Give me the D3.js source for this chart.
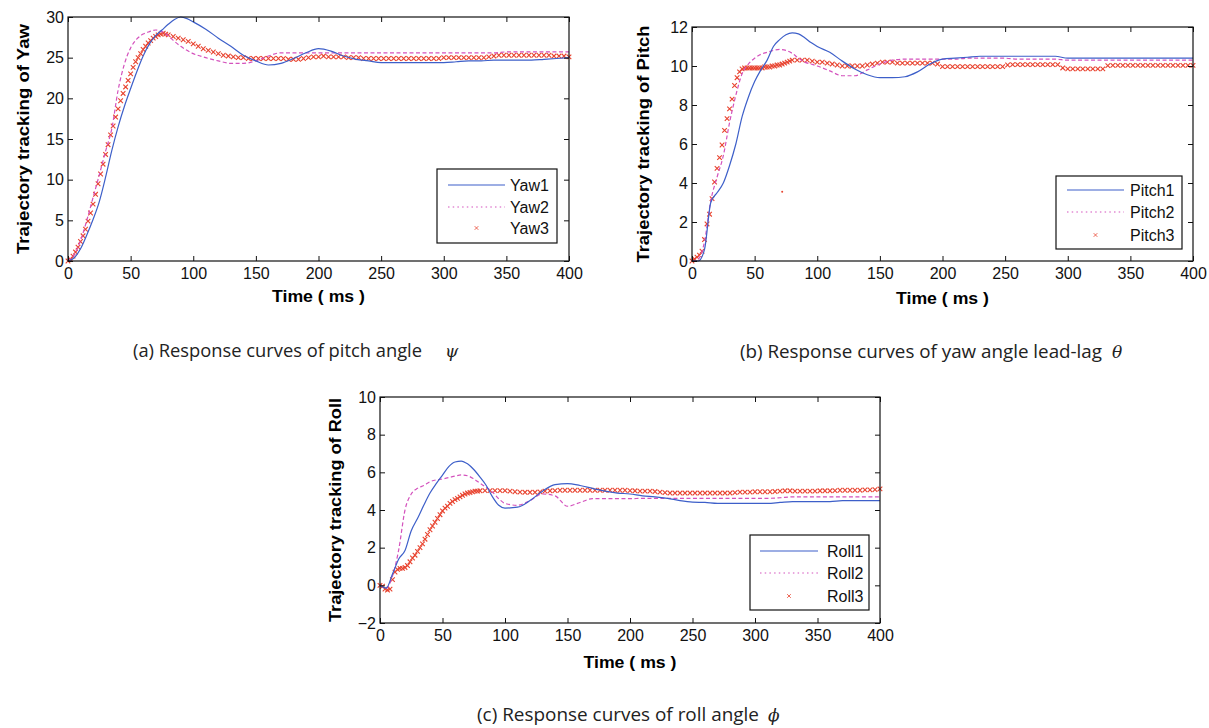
<!DOCTYPE html>
<html>
<head>
<meta charset="utf-8">
<script src="https://cdn.jsdelivr.net/npm/d3@7"></script>
<style>
  body { margin: 0; background: #fff; }
  svg text { font-family: "Liberation Sans", Arial, sans-serif; }
</style>
</head>
<body>
<svg id="fig" width="1209" height="728"></svg>
<script>
// sample times (ms) for the solid / dashed curves
const tLine = [0, 5, 10, 15, 20, 25, 30, 35, 40, 45, 50, 55, 60, 65, 70, 75, 80, 85, 90, 95, 100,
  110, 120, 130, 140, 150, 160, 170, 180, 190, 200, 210, 220, 230, 240, 250, 260, 270, 280, 290, 300,
  310, 320, 330, 340, 350, 360, 370, 380, 390, 400];

// sample times (ms) for the x-marker series
const tMark = [0, 2, 4, 6, 8, 10, 12, 14, 16, 18, 20, 22, 24, 26, 28, 30, 32, 34, 36, 38, 40,
  42, 44, 46, 48, 50, 52, 54, 56, 58, 60, 62, 64, 66, 68, 70, 72, 74, 76, 78, 80,
  84, 88, 92, 96, 100, 104, 108, 112, 116, 120, 124, 128, 132, 136, 140, 144, 148, 152, 156, 160,
  164, 168, 172, 176, 180, 184, 188, 192, 196, 200, 204, 208, 212, 216, 220, 224, 228, 232, 236, 240,
  244, 248, 252, 256, 260, 264, 268, 272, 276, 280, 284, 288, 292, 296, 300, 304, 308, 312, 316, 320,
  324, 328, 332, 336, 340, 344, 348, 352, 356, 360, 364, 368, 372, 376, 380, 384, 388, 392, 396, 400];

const xTicks = [0, 50, 100, 150, 200, 250, 300, 350, 400];

// (a) yaw
const yaw1 = [0, 0.4, 1.5, 3.2, 5.1, 7.3, 10.3, 13.6, 16.5, 19.0, 21.2, 23.3, 25.2, 26.7, 27.7, 28.4, 29.1, 29.7, 30.0, 29.8, 29.4,
  28.5, 27.4, 26.4, 25.3, 24.6, 24.1, 24.3, 24.9, 25.6, 26.1, 25.8, 25.2, 24.8, 24.6, 24.4, 24.4, 24.4, 24.4, 24.4, 24.4,
  24.5, 24.6, 24.6, 24.7, 24.7, 24.7, 24.7, 24.8, 24.9, 25.0];
const yaw2 = [0, 0.8, 2.5, 5.0, 7.8, 10.6, 13.5, 16.3, 21.0, 24.2, 26.2, 27.3, 27.9, 28.2, 28.4, 28.2, 27.7, 27.0, 26.4, 25.9, 25.5,
  25.0, 24.6, 24.3, 24.3, 24.6, 25.2, 25.6, 25.6, 25.6, 25.6, 25.6, 25.6, 25.6, 25.6, 25.6, 25.6, 25.6, 25.6, 25.6, 25.6,
  25.6, 25.6, 25.6, 25.6, 25.7, 25.7, 25.7, 25.7, 25.7, 25.7];
const yaw3 = [0, 0.2, 0.6, 1.1, 1.7, 2.4, 3.1, 3.9, 4.9, 5.9, 7.0, 8.2, 9.5, 10.7, 11.9, 13.1, 14.3, 15.5, 16.6, 17.7, 18.7,
  19.7, 20.6, 21.4, 22.2, 23.0, 23.8, 24.5, 25.0, 25.5, 26.0, 26.4, 26.8, 27.1, 27.4, 27.6, 27.8, 27.9, 28.0, 27.9, 27.8,
  27.6, 27.4, 27.2, 27.0, 26.7, 26.4, 26.1, 25.9, 25.7, 25.5, 25.3, 25.2, 25.1, 25.0, 25.0, 24.9, 24.9, 24.9, 24.9, 24.9,
  24.9, 24.9, 24.9, 24.8, 24.8, 24.8, 24.9, 25.0, 25.1, 25.1, 25.2, 25.1, 25.1, 25.1, 25.1, 25.0, 25.0, 25.0, 24.9, 24.9,
  24.9, 24.9, 24.9, 24.9, 24.9, 24.9, 24.9, 24.9, 24.9, 24.9, 24.9, 24.9, 24.9, 24.9, 25.0, 25.0, 25.0, 25.0, 25.0, 25.0,
  25.0, 25.0, 25.0, 25.1, 25.2, 25.3, 25.3, 25.3, 25.3, 25.3, 25.3, 25.3, 25.3, 25.3, 25.3, 25.3, 25.2, 25.2, 25.2, 25.1];

// (b) pitch
const pitch1 = [0, 0.0, 0.6, 3.0, 3.5, 4.0, 4.9, 6.0, 7.4, 8.4, 9.2, 9.8, 10.3, 11.0, 11.35, 11.6, 11.7, 11.65, 11.45, 11.2, 11.0,
  10.7, 10.25, 9.85, 9.55, 9.4, 9.4, 9.45, 9.7, 10.1, 10.35, 10.4, 10.45, 10.5, 10.5, 10.5, 10.5, 10.5, 10.5, 10.5, 10.4,
  10.4, 10.4, 10.4, 10.4, 10.4, 10.4, 10.4, 10.4, 10.4, 10.4];
const pitch2 = [0, 0.1, 1.0, 3.1, 4.3, 5.4, 7.1, 8.5, 9.6, 10.1, 10.4, 10.6, 10.7, 10.8, 10.85, 10.8, 10.65, 10.4, 10.2, 10.1, 10.0,
  9.75, 9.5, 9.5, 9.8, 10.1, 10.3, 10.35, 10.35, 10.35, 10.35, 10.35, 10.4, 10.4, 10.4, 10.4, 10.35, 10.35, 10.35, 10.35, 10.3,
  10.3, 10.3, 10.3, 10.3, 10.3, 10.3, 10.3, 10.3, 10.3, 10.3];
const pitch3 = [0, 0.1, 0.2, 0.3, 0.5, 1.1, 1.9, 2.4, 3.2, 4.05, 4.75, 5.3, 5.95, 6.7, 7.3, 7.8, 8.3, 9.0, 9.4, 9.7, 9.85,
  9.9, 9.9, 9.9, 9.9, 9.9, 9.9, 9.9, 9.9, 9.95, 9.95, 9.95, 10.0, 10.0, 10.05, 10.05, 10.1, 10.15, 10.2, 10.25, 10.3,
  10.3, 10.3, 10.3, 10.25, 10.2, 10.2, 10.15, 10.1, 10.05, 10.0, 10.0, 10.0, 10.0, 10.0, 10.05, 10.1, 10.15, 10.2, 10.2, 10.2,
  10.15, 10.15, 10.15, 10.15, 10.15, 10.15, 10.15, 10.15, 10.1, 9.97, 9.97, 9.97, 9.97, 9.97, 9.97, 9.97, 9.97, 9.97, 9.97, 9.97,
  9.97, 9.97, 10.05, 10.07, 10.07, 10.07, 10.07, 10.07, 10.07, 10.07, 10.07, 10.07, 10.07, 9.9, 9.85, 9.85, 9.85, 9.85, 9.85, 9.85,
  9.85, 9.85, 10.02, 10.03, 10.03, 10.03, 10.03, 10.03, 10.03, 10.03, 10.03, 10.03, 10.03, 10.03, 10.03, 10.03, 10.03, 10.03, 10.03, 10.03];
const pitchStray = [[72, 3.55]];

// (c) roll
const roll1 = [0, -0.15, 0.6, 1.4, 1.85, 2.9, 3.55, 4.25, 4.9, 5.4, 5.85, 6.3, 6.55, 6.6, 6.45, 6.15, 5.75, 5.3, 4.7, 4.25, 4.1,
  4.15, 4.5, 5.0, 5.35, 5.4, 5.3, 5.15, 5.0, 4.9, 4.85, 4.75, 4.7, 4.62, 4.5, 4.42, 4.4, 4.35, 4.35, 4.35, 4.35,
  4.35, 4.4, 4.45, 4.45, 4.45, 4.45, 4.5, 4.5, 4.5, 4.5];
const roll2 = [0, -0.15, 0.5, 1.9, 4.0, 4.85, 5.15, 5.3, 5.5, 5.6, 5.65, 5.72, 5.8, 5.86, 5.82, 5.65, 5.42, 5.2, 4.95, 4.6, 4.35,
  4.25, 4.5, 4.85, 4.75, 4.2, 4.4, 4.6, 4.6, 4.6, 4.6, 4.62, 4.62, 4.62, 4.62, 4.62, 4.62, 4.62, 4.62, 4.62, 4.62,
  4.62, 4.65, 4.7, 4.7, 4.7, 4.7, 4.7, 4.7, 4.7, 4.7];
const roll3 = [0, -0.05, -0.2, -0.25, -0.2, 0.3, 0.7, 0.85, 0.9, 0.9, 0.95, 1.05, 1.25, 1.45, 1.6, 1.8, 2.0, 2.2, 2.45, 2.7, 2.95,
  3.15, 3.35, 3.55, 3.75, 3.95, 4.1, 4.2, 4.35, 4.45, 4.55, 4.62, 4.7, 4.78, 4.85, 4.9, 4.93, 4.96, 5.0, 5.0, 5.02,
  5.03, 5.03, 5.03, 5.03, 5.03, 5.0, 4.97, 4.95, 4.94, 4.94, 4.94, 4.96, 5.0, 5.02, 5.03, 5.05, 5.05, 5.05, 5.05, 5.05,
  5.05, 5.05, 5.05, 5.05, 5.05, 5.05, 5.05, 5.05, 5.05, 5.03, 5.02, 5.0, 5.0, 5.0, 4.98, 4.95, 4.92, 4.9, 4.9, 4.9,
  4.9, 4.9, 4.9, 4.9, 4.9, 4.9, 4.9, 4.9, 4.9, 4.9, 4.92, 4.95, 4.95, 4.95, 4.97, 4.97, 4.97, 4.97, 4.98, 5.0,
  5.02, 5.02, 5.0, 5.0, 5.0, 5.0, 5.0, 5.02, 5.02, 5.02, 5.03, 5.05, 5.05, 5.05, 5.05, 5.05, 5.07, 5.07, 5.08, 5.12];

const blue = '#3d5fc9', pink = '#d452bd', red = '#e8432f';

const svg = d3.select('#fig');
svg.append('rect').attr('width', 1209).attr('height', 728).attr('fill', '#fff');

const panels = [
  {
    box: { x0: 68, x1: 569, y0: 17, y1: 261 }, yDomain: [0, 30], yTicks: [0, 5, 10, 15, 20, 25, 30],
    ylabel: 'Trajectory tracking of Yaw', ylabX: 29, ylabLen: 230, xlabY: 302,
    names: ['Yaw1', 'Yaw2', 'Yaw3'], s1: yaw1, s2: yaw2, s3: yaw3, stray: [],
    legend: { x: 437, y: 169, w: 120, h: 74, rows: [185, 207, 228], lx0: 448, lx1: 505, tx: 510 }
  },
  {
    box: { x0: 692, x1: 1193, y0: 27, y1: 261 }, yDomain: [0, 12], yTicks: [0, 2, 4, 6, 8, 10, 12],
    ylabel: 'Trajectory tracking of Pitch', ylabX: 649, ylabLen: 237, xlabY: 304,
    names: ['Pitch1', 'Pitch2', 'Pitch3'], s1: pitch1, s2: pitch2, s3: pitch3, stray: pitchStray,
    legend: { x: 1056, y: 176, w: 126, h: 73, rows: [190, 212, 235], lx0: 1067, lx1: 1124, tx: 1130 }
  },
  {
    box: { x0: 380, x1: 880, y0: 397, y1: 623 }, yDomain: [-2, 10], yTicks: [-2, 0, 2, 4, 6, 8, 10],
    ylabel: 'Trajectory tracking of Roll', ylabX: 341, ylabLen: 224, xlabY: 668,
    names: ['Roll1', 'Roll2', 'Roll3'], s1: roll1, s2: roll2, s3: roll3, stray: [],
    legend: { x: 750, y: 535, w: 119, h: 75, rows: [551, 573, 596], lx0: 760, lx1: 818, tx: 827 }
  }
];

const xMark = 'M-2.3,-2.3L2.3,2.3M-2.3,2.3L2.3,-2.3';

function styleAxis(sel, labelSize) {
  sel.attr('font-size', null).attr('font-family', null);
  sel.select('.domain').remove();
  sel.selectAll('line').attr('stroke', '#111').attr('stroke-width', 1);
  sel.selectAll('text').attr('fill', '#111').style('font-size', labelSize + 'px')
    .style('font-family', '"Liberation Sans", Arial, sans-serif');
}

panels.forEach(p => {
  const b = p.box;
  const x = d3.scaleLinear().domain([0, 400]).range([b.x0, b.x1]);
  const y = d3.scaleLinear().domain(p.yDomain).range([b.y1, b.y0]);
  const g = svg.append('g');

  const line = d3.line().x((d, i) => x(tLine[i])).y(d => y(d)).curve(d3.curveMonotoneX);

  // markers series
  g.append('g').selectAll('path').data(p.s3).join('path')
    .attr('d', xMark)
    .attr('transform', (d, i) => `translate(${x(tMark[i])},${y(d)})`)
    .attr('fill', 'none').attr('stroke', red).attr('stroke-width', 1.1);

  g.selectAll('circle.stray').data(p.stray).join('circle')
    .attr('class', 'stray')
    .attr('cx', d => x(d[0])).attr('cy', d => y(d[1])).attr('r', 1)
    .attr('fill', red);

  g.append('path').datum(p.s2).attr('d', line)
    .attr('fill', 'none').attr('stroke', pink).attr('stroke-width', 1.2)
    .attr('stroke-dasharray', '4,2.5');

  g.append('path').datum(p.s1).attr('d', line)
    .attr('fill', 'none').attr('stroke', blue).attr('stroke-width', 1.2);

  // axes with inward ticks on all sides
  g.append('g').attr('transform', `translate(0,${b.y1})`)
    .call(d3.axisBottom(x).tickValues(xTicks).tickSize(-5).tickPadding(7))
    .call(s => styleAxis(s, 16));
  g.append('g').attr('transform', `translate(0,${b.y0})`)
    .call(d3.axisTop(x).tickValues(xTicks).tickSize(-5).tickFormat(''))
    .call(s => styleAxis(s, 16));
  g.append('g').attr('transform', `translate(${b.x0},0)`)
    .call(d3.axisLeft(y).tickValues(p.yTicks).tickSize(-5).tickPadding(4))
    .call(s => styleAxis(s, 16));
  g.append('g').attr('transform', `translate(${b.x1},0)`)
    .call(d3.axisRight(y).tickValues(p.yTicks).tickSize(-5).tickFormat(''))
    .call(s => styleAxis(s, 16));

  g.append('rect')
    .attr('x', b.x0).attr('y', b.y0)
    .attr('width', b.x1 - b.x0).attr('height', b.y1 - b.y0)
    .attr('fill', 'none').attr('stroke', '#111').attr('stroke-width', 1.2);

  // axis titles
  g.append('text')
    .attr('x', (b.x0 + b.x1) / 2).attr('y', p.xlabY)
    .attr('text-anchor', 'middle')
    .attr('textLength', 93).attr('lengthAdjust', 'spacingAndGlyphs')
    .style('font-size', '17px').style('font-weight', 'bold')
    .text('Time ( ms )');

  g.append('text')
    .attr('transform', `translate(${p.ylabX},${(b.y0 + b.y1) / 2}) rotate(-90)`)
    .attr('text-anchor', 'middle')
    .attr('textLength', p.ylabLen).attr('lengthAdjust', 'spacingAndGlyphs')
    .style('font-size', '17px').style('font-weight', 'bold')
    .text(p.ylabel);

  // legend
  const L = p.legend;
  const lg = g.append('g');
  lg.append('rect').attr('x', L.x).attr('y', L.y).attr('width', L.w).attr('height', L.h)
    .attr('fill', '#fff').attr('stroke', '#111').attr('stroke-width', 1.2);
  lg.append('line').attr('x1', L.lx0).attr('x2', L.lx1).attr('y1', L.rows[0]).attr('y2', L.rows[0])
    .attr('stroke', blue).attr('stroke-width', 1.2);
  lg.append('line').attr('x1', L.lx0).attr('x2', L.lx1).attr('y1', L.rows[1]).attr('y2', L.rows[1])
    .attr('stroke', pink).attr('stroke-width', 1.2).attr('stroke-dasharray', '1.5,3.2');
  lg.append('path').attr('d', xMark)
    .attr('transform', `translate(${(L.lx0 + L.lx1) / 2},${L.rows[2]}) scale(0.8)`)
    .attr('fill', 'none').attr('stroke', red).attr('stroke-width', 1);
  p.names.forEach((n, i) => {
    lg.append('text').attr('x', L.tx).attr('y', L.rows[i]).attr('dy', '0.36em')
      .style('font-size', '16px').attr('fill', '#111').text(n);
  });
});

// captions
const captions = [
  { x: 133, y: 357, len: 289, text: '(a) Response curves of pitch angle', sym: 'ψ', sx: 445 },
  { x: 740, y: 358, len: 362, text: '(b) Response curves of yaw angle  lead-lag', sym: 'θ', sx: 1112 },
  { x: 477, y: 721, len: 282, text: '(c) Response curves of roll angle', sym: 'ϕ', sx: 768 }
];
captions.forEach(c => {
  svg.append('text')
    .attr('x', c.x).attr('y', c.y)
    .attr('textLength', c.len).attr('lengthAdjust', 'spacingAndGlyphs')
    .style('font-family', '"Open Sans", "Noto Sans", sans-serif')
    .style('font-size', '18px').attr('fill', '#222')
    .text(c.text);
  svg.append('text')
    .attr('x', c.sx).attr('y', c.y)
    .style('font-family', '"DejaVu Serif", serif').style('font-style', 'italic')
    .style('font-size', '17px').attr('fill', '#222')
    .text(c.sym);
});
</script>
</body>
</html>
